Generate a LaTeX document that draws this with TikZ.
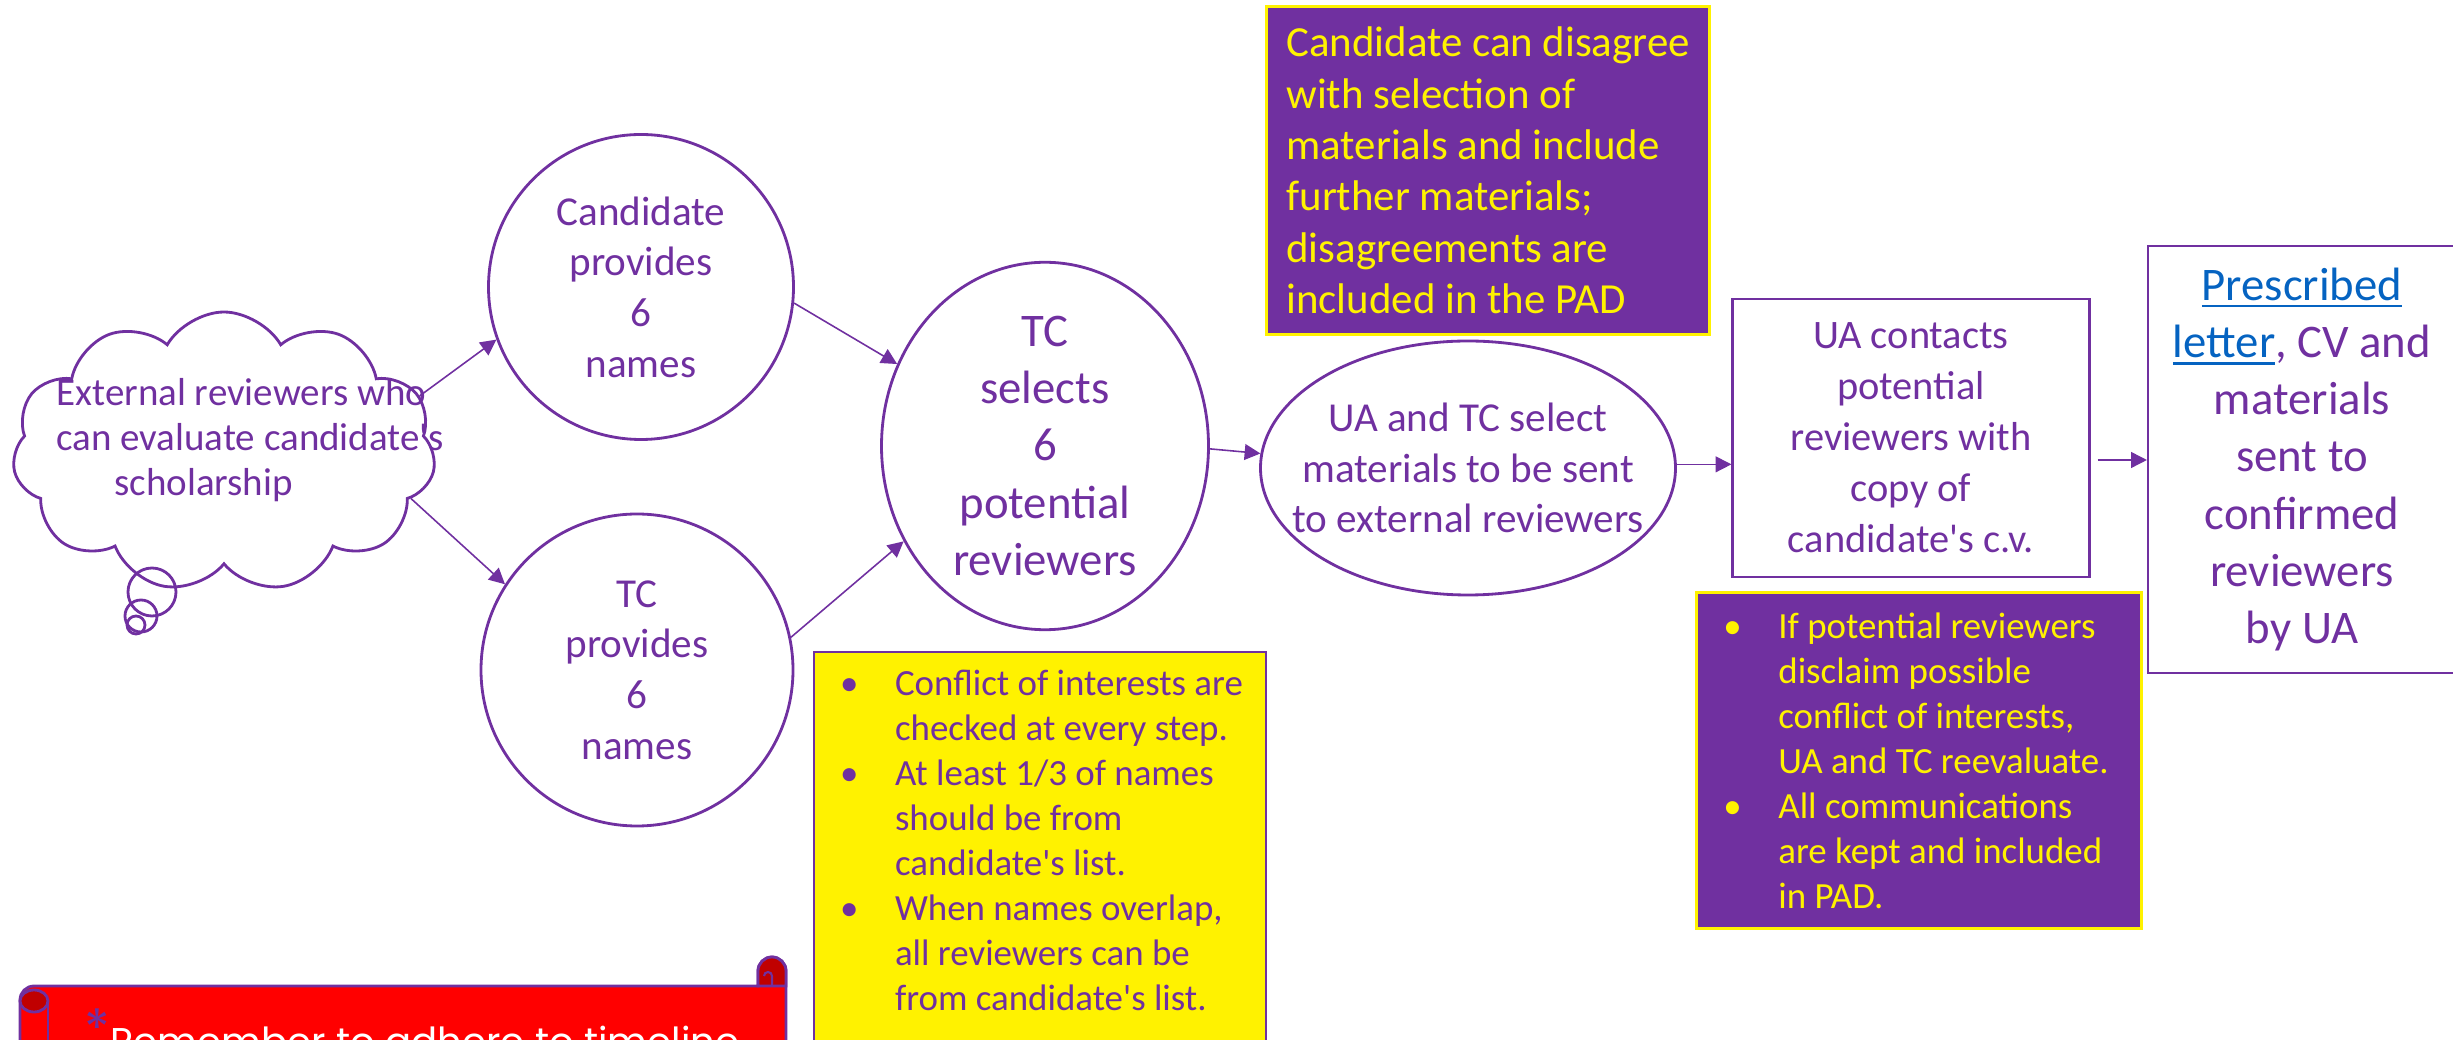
\documentclass[tikz,border=0pt]{standalone}
\usepackage{fontspec}
\setmainfont{Carlito}
\newfontfamily\scrollfont{Poppins}
\usepackage{tikz}
\usetikzlibrary{arrows.meta,positioning,shapes.geometric,shapes.symbols}

\definecolor{purp}{HTML}{7030A0}
\definecolor{linkblue}{HTML}{0563C1}
\definecolor{scrollred}{HTML}{FF0000}
\definecolor{rolldark}{HTML}{C00000}

% underlined link text
\newcommand{\linkref}[1]{\textcolor{linkblue}{\setbox0\hbox{#1}\rlap{\rule[-2.1pt]{\wd0}{0.8pt}}\box0}}
% bullet line with hanging indent
\newcommand{\bpt}{\par\noindent\hangindent=0.68cm\hangafter=1\makebox[0.68cm][l]{\hspace{0.13cm}\textbullet}}

\tikzset{
  stage/.style={circle, draw=purp, line width=0.8pt, text=purp, align=center, inner sep=0pt, minimum size=3.05cm, font=\fontsize{11.7}{14.4}\selectfont},
  plainbox/.style={rectangle, draw=purp, line width=0.6pt, text=purp, align=center, inner sep=0pt},
  hilite/.style={rectangle, fill=yellow, draw=purp, line width=0.6pt, text=purp, anchor=north west, inner xsep=0.13cm, inner ysep=0.18cm, font=\fontsize{10.5}{12.8}\selectfont},
  darknote/.style={rectangle, fill=purp, draw=yellow, line width=0.8pt, text=yellow, anchor=north west},
  arr/.style={purp, line width=0.45pt, -{Triangle[length=4.5pt,width=4.5pt]}},
}

\begin{document}
\begin{tikzpicture}
\useasboundingbox (0,0) rectangle (24.53,-10.40);

% thought cloud
\node[cloud, draw=purp, line width=0.8pt, cloud puffs=11, cloud puff arc=120, minimum width=4.23cm, minimum height=2.8cm, inner sep=0pt] (ext) at (2.24,-4.52) {};
\node[text=purp, align=left, inner sep=0pt, font=\fontsize{11.1}{12.8}\selectfont] (exttext) at (2.50,-4.40) {External reviewers who\\can evaluate candidate\textquotesingle s\\\hspace*{0.58cm}scholarship};
\draw[purp, line width=0.8pt] (1.52,-5.92) circle (0.24);
\draw[purp, line width=0.8pt] (1.41,-6.16) circle (0.16);
\draw[purp, line width=0.8pt] (1.36,-6.25) circle (0.09);

% who provides names
\node[stage] (cand) at (6.41,-2.87) {Candidate\\provides\\6\\names};
\node[stage, minimum size=3.12cm] (tcprov) at (6.37,-6.70) {TC\\provides\\6\\names};

% selection and sending
\node[stage, ellipse, minimum width=3.27cm, minimum height=3.55cm, inner xsep=-0.1cm, font=\fontsize{13.3}{16.3}\selectfont] (tcsel) at (10.45,-4.46) {TC\\selects\\6\\potential\\reviewers};
\node[stage, ellipse, minimum width=4.15cm, minimum height=2.54cm, inner xsep=-0.3cm] (mat) at (14.68,-4.68) {UA and TC select\\materials to be sent\\to external reviewers};
\node[plainbox, minimum width=3.57cm, minimum height=2.78cm, font=\fontsize{11.5}{14.5}\selectfont] (contact) at (19.11,-4.38) {UA contacts\\potential\\reviewers with\\copy of\\candidate\textquotesingle s c.v.};
\node[plainbox, minimum width=3.08cm, minimum height=4.27cm, font=\fontsize{13.3}{16.3}\selectfont] (letter) at (23.02,-4.595) {\linkref{Prescribed}\\\linkref{letter}, CV and\\materials\\sent to\\confirmed\\reviewers\\by UA};

% side notes
\node[darknote, minimum width=4.42cm, minimum height=3.28cm, inner xsep=0.2cm, align=left, font=\fontsize{12.2}{14.6}\selectfont] (dispute) at (12.65,-0.05) {Candidate can disagree\\with selection of\\materials and include\\further materials;\\disagreements are\\included in the PAD};
\node[darknote, minimum width=4.45cm, minimum height=3.36cm, inner xsep=0.14cm, font=\fontsize{10.5}{12.8}\selectfont] (recheck) at (16.95,-5.91) {\parbox{4.17cm}{\raggedright\bpt If potential reviewers\newline disclaim possible\newline conflict of interests,\newline UA and TC reevaluate.\bpt All communications\newline are kept and included\newline in PAD.}};
\node[hilite] (coi) at (8.13,-6.51) {\parbox[t][4.2cm][t]{4.26cm}{\raggedright\bpt Conflict of interests are\newline checked at every step.\bpt At least 1/3 of names\newline should be from\newline candidate\textquotesingle s list.\bpt When names overlap,\newline all reviewers can be\newline from candidate\textquotesingle s list.}};

% connectors
\draw[arr] (ext.16) -- (cand.200);
\draw[arr] (ext.-14) -- (tcprov.147);
\draw[arr] (cand.-6) -- (tcsel.151);
\draw[arr] (tcprov.12) -- (tcsel.214);
\draw[arr] (tcsel.-1) -- (mat.176);
\draw[arr] (mat.1) -- (mat.1 -| contact.west);
\draw[arr, shorten <=0.07cm] ([yshift=-2.2mm]contact.east) -- ([yshift=-2.2mm]contact.east -| letter.west);

% reminder scroll
\draw[purp, line width=0.8pt, fill=scrollred] (0.20,-10.60) -- (0.20,-10.00) arc[start angle=180, end angle=90, radius=0.14] -- (7.58,-9.86) -- (7.58,-9.71) arc[start angle=180, end angle=0, radius=0.14] -- (7.86,-10.60);
\filldraw[purp, line width=0.8pt, fill=rolldark] (7.58,-9.86) -- (7.58,-9.71) arc[start angle=180, end angle=0, radius=0.14] -- (7.86,-9.86) -- cycle;
\draw[purp, line width=0.6pt] (7.72,-9.86) -- (7.72,-9.76) arc[start angle=0, end angle=180, radius=0.04];
\filldraw[purp, line width=0.8pt, fill=rolldark] (0.34,-10.01) ellipse (0.14 and 0.11);
\draw[purp, line width=0.8pt] (0.48,-10.01) -- (0.48,-10.60);
\node[anchor=base west, inner sep=0pt, text=white, font=\scrollfont\fontsize{11}{13}\selectfont] (remind) at (0.84,-10.55) {\textcolor{purp}{\raisebox{0.2em}{\fontsize{15}{17}\selectfont*}}Remember to adhere to timeline};
\end{tikzpicture}
\end{document}
